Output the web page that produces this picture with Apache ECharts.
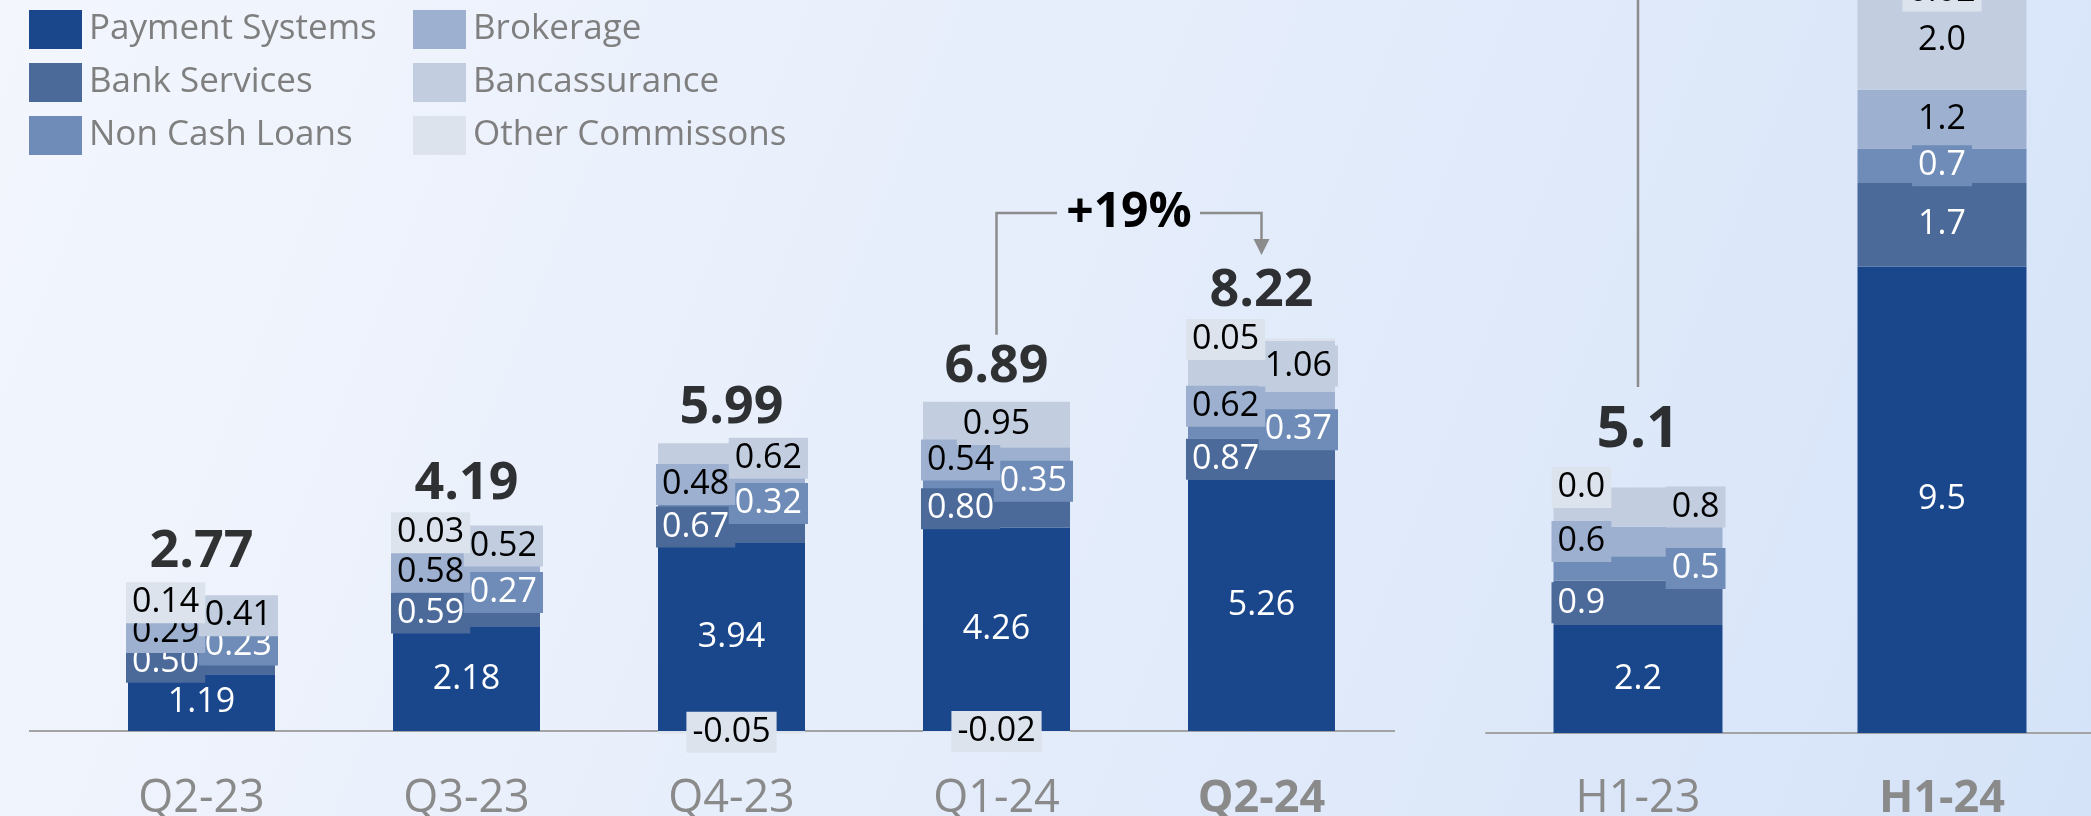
<!DOCTYPE html>
<html>
<head>
<meta charset="utf-8">
<script src="https://cdn.jsdelivr.net/npm/echarts@6/dist/echarts.min.js"></script>
<style>
html,body{margin:0;padding:0;}
#chart{width:2091px;height:816px;}
</style>
</head>
<body>
<div id="chart"></div>
<script>
// ---------------- DATA ----------------
const seriesNames = ['Payment Systems', 'Bank Services', 'Non Cash Loans', 'Brokerage', 'Bancassurance', 'Other Commissons'];

const quarterCategories = ['Q2-23', 'Q3-23', 'Q4-23', 'Q1-24', 'Q2-24'];
const paymentQ   = [1.19, 2.18, 3.94, 4.26, 5.26];
const bankQ      = [0.50, 0.59, 0.67, 0.80, 0.87];
const nonCashQ   = [0.23, 0.27, 0.32, 0.35, 0.37];
const brokerageQ = [0.29, 0.58, 0.48, 0.54, 0.62];
const bancaQ     = [0.41, 0.52, 0.62, 0.95, 1.06];
const otherQ     = [0.14, 0.03, -0.05, -0.02, 0.05];
const totalsQ    = [2.77, 4.19, 5.99, 6.89, 8.22];
const growthQ    = '+19%';

const halfCategories = ['H1-23', 'H1-24'];
const paymentH   = [2.2, 9.5];
const bankH      = [0.9, 1.7];
const nonCashH   = [0.5, 0.7];
const brokerageH = [0.6, 1.2];
const bancaH     = [0.8, 2.0];
const otherH     = [0.0, 0.02];
const totalsH    = [5.1, 15.1];

// ---------------- STYLE ----------------
const FONT = '"Open Sans", "Noto Sans", sans-serif';
const COLORS = ['#1a478b', '#4b6a99', '#6e8cb7', '#9db0cf', '#c2cee0', '#dce3ed'];
const TEXT_COLORS = ['#ffffff', '#ffffff', '#ffffff', '#000000', '#000000', '#000000'];
const AXIS_GREY = '#a3a3a3';
const CAT_GREY = '#8a8a8a';

// labels drawn centred instead of alternating left/right: [category] -> series indices
const centeredQ = {3: [4]};
const centeredH = {1: [0, 1, 2, 3, 4, 5]};

const quarterSeries = [paymentQ, bankQ, nonCashQ, brokerageQ, bancaQ, otherQ];
const halfSeries = [paymentH, bankH, nonCashH, brokerageH, bancaH, otherH];

function fmtQ(v) { return v.toFixed(2); }
function fmtH(v) { return (v !== 0 && Math.abs(v) < 0.1) ? v.toFixed(2) : v.toFixed(1); }

function segLabel(si, v, centered, text) {
  const base = {show: true, fontFamily: FONT, fontSize: 34, lineHeight: 35,
                color: TEXT_COLORS[si], formatter: text};
  if (si === 0) return Object.assign(base, {position: 'inside'});
  const boxed = Object.assign(base, {backgroundColor: COLORS[si], padding: [3, 6]});
  if (v < 0 || centered) return Object.assign(boxed, {position: 'inside'});
  if (si % 2 === 1) return Object.assign(boxed, {position: [-2, '50%'], align: 'left', verticalAlign: 'middle'});
  return Object.assign(boxed, {position: ['100%', '50%'], align: 'right', verticalAlign: 'middle', offset: [3, 0]});
}

function posSum(arrs, i) {
  let s = 0; arrs.forEach(a => { if (a[i] > 0) s += a[i]; }); return s;
}

const series = [];
seriesNames.forEach((name, si) => {
  series.push({
    name: name, type: 'bar', stack: 'q', xAxisIndex: 0, yAxisIndex: 0, clip: false,
    barWidth: 147, itemStyle: {color: COLORS[si]},
    data: quarterSeries[si].map((v, i) => ({
      value: v,
      label: segLabel(si, v, (centeredQ[i] || []).includes(si), fmtQ(v))
    }))
  });
  series.push({
    name: name, type: 'bar', stack: 'h', xAxisIndex: 1, yAxisIndex: 1, clip: false,
    barWidth: 169, itemStyle: {color: COLORS[si]},
    data: halfSeries[si].map((v, i) => ({
      value: v,
      label: segLabel(si, v, (centeredH[i] || []).includes(si), fmtH(v))
    }))
  });
});

// total label offsets above the positive stack
const TOTAL_FONT_Q = 52, TOTAL_FONT_H = 58;
function totalOffsetQ(i) { return (otherQ[i] >= 0 ? 20.5 + 1 : 9) + TOTAL_FONT_Q / 2; }
function totalOffsetH(i) { return (otherH[i] >= 0 ? 20.5 + 7 : 9) + TOTAL_FONT_H / 2; }

series.push({
  type: 'scatter', xAxisIndex: 0, yAxisIndex: 0, symbolSize: 1, silent: true, clip: false,
  itemStyle: {color: 'rgba(0,0,0,0)'},
  data: quarterCategories.map((c, i) => ({
    value: [c, posSum(quarterSeries, i)],
    label: {show: true, position: 'inside', offset: [0, -totalOffsetQ(i)],
            formatter: totalsQ[i].toFixed(2), fontFamily: FONT, fontWeight: 'bold',
            fontSize: TOTAL_FONT_Q, color: '#000'}
  }))
});
series.push({
  type: 'scatter', xAxisIndex: 1, yAxisIndex: 1, symbolSize: 1, silent: true, clip: false,
  itemStyle: {color: 'rgba(0,0,0,0)'},
  data: halfCategories.map((c, i) => ({
    value: [c, posSum(halfSeries, i)],
    label: {show: true, position: 'inside', offset: [0, -totalOffsetH(i)],
            formatter: totalsH[i].toFixed(1), fontFamily: FONT, fontWeight: 'bold',
            fontSize: TOTAL_FONT_H, color: '#000'}
  }))
});

const legendText = {fontFamily: FONT, fontSize: 35, color: '#7f7f7f', lineHeight: 39, padding: [0, 0, 0, 2]};
const catLabel = {fontFamily: FONT, fontSize: 45, color: CAT_GREY, verticalAlign: 'middle'};
function catData(cats) {
  return cats.map((c, i) => i === cats.length - 1
    ? {value: c, textStyle: Object.assign({}, catLabel, {fontWeight: 'bold'})}
    : c);
}

const option = {
  animation: false,
  backgroundColor: new echarts.graphic.LinearGradient(0, 0, 1, 1, [
    {offset: 0, color: '#f3f6fd'}, {offset: 0.5, color: '#e5edfb'}, {offset: 1, color: '#d5e3f8'}
  ]),
  legend: [
    {data: seriesNames.slice(0, 3), orient: 'vertical', left: 24, top: 5, icon: 'rect',
     itemWidth: 53, itemHeight: 39, itemGap: 14, textStyle: legendText, selectedMode: false},
    {data: seriesNames.slice(3), orient: 'vertical', left: 408, top: 5, icon: 'rect',
     itemWidth: 53, itemHeight: 39, itemGap: 14, textStyle: legendText, selectedMode: false}
  ],
  grid: [
    {left: 69, width: 1325, top: 0, bottom: 85, containLabel: false, outerBoundsMode: 'none'},
    {left: 1486, width: 608, top: -40, bottom: 83, containLabel: false, outerBoundsMode: 'none'}
  ],
  xAxis: [
    {type: 'category', gridIndex: 0, data: catData(quarterCategories),
     axisLine: {show: false}, axisTick: {show: false},
     axisLabel: Object.assign({margin: 68}, catLabel)},
    {type: 'category', gridIndex: 1, data: catData(halfCategories),
     axisLine: {show: true, lineStyle: {color: AXIS_GREY, width: 2}}, axisTick: {show: false},
     axisLabel: Object.assign({margin: 66}, catLabel)}
  ],
  yAxis: [
    {type: 'value', gridIndex: 0, min: 0, max: 15.325, show: false, splitLine: {show: false}},
    {type: 'value', gridIndex: 1, min: 0, max: 15.74, show: false, splitLine: {show: false}}
  ],
  series: series
};

const chart = echarts.init(document.getElementById('chart'), null, {renderer: 'canvas'});
chart.setOption(option);

// ---------------- annotations (positions from the chart's own scales) ----------------
const px = (xi, cat, val) => chart.convertToPixel({xAxisIndex: xi, yAxisIndex: xi}, [cat, val]);
const base0 = px(0, quarterCategories[0], 0);
const lastQ = quarterCategories.length - 1;
const aIdx = lastQ - 1, bIdx = lastQ;
const pa = px(0, quarterCategories[aIdx], posSum(quarterSeries, aIdx));
const pb = px(0, quarterCategories[bIdx], posSum(quarterSeries, bIdx));
const ca = pa[1] - totalOffsetQ(aIdx);   // centre of total label A
const cb = pb[1] - totalOffsetQ(bIdx);   // centre of total label B
const bracketY = cb - 78;
const mid = (pa[0] + pb[0]) / 2;
const LS = {stroke: '#8c8c8c', lineWidth: 2.5};
const ph = px(1, halfCategories[0], posSum(halfSeries, 0));
const ch = ph[1] - totalOffsetH(0);

chart.setOption({
  graphic: [
    {type: 'line', shape: {x1: 29, y1: base0[1], x2: 1395, y2: base0[1]}, style: {stroke: AXIS_GREY, lineWidth: 2}, silent: true},
    {type: 'polyline', shape: {points: [[pa[0], ca - 32], [pa[0], bracketY], [mid - 72, bracketY]]}, style: LS, silent: true},
    {type: 'polyline', shape: {points: [[mid + 71, bracketY], [pb[0], bracketY], [pb[0], cb - 49]]}, style: LS, silent: true},
    {type: 'polygon', shape: {points: [[pb[0] - 8, cb - 52], [pb[0] + 8, cb - 52], [pb[0], cb - 36]]}, style: {fill: '#8c8c8c'}, silent: true},
    {type: 'text', x: mid, y: bracketY, style: {text: growthQ, fontFamily: FONT, fontWeight: 'bold', fontSize: 48,
      fill: '#000', align: 'center', verticalAlign: 'middle'}, silent: true},
    {type: 'line', shape: {x1: ph[0], y1: ch - 44, x2: ph[0], y2: -20}, style: LS, silent: true}
  ]
});
</script>
</body>
</html>
